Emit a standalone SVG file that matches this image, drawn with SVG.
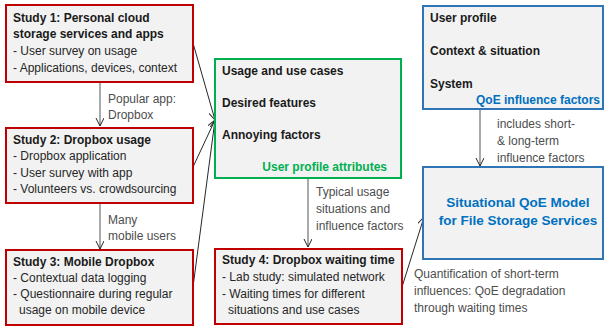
<svg xmlns="http://www.w3.org/2000/svg" width="606" height="327" viewBox="0 0 606 327">
<style>
text{font-family:"Liberation Sans",Arial,sans-serif;font-size:12px;fill:#262626}
.b{font-weight:bold;font-size:12px;fill:#1a1a1a}
.red{fill:#f2f2f2;stroke:#c00000;stroke-width:2}
.grn{fill:#f2f2f2;stroke:#00b050;stroke-width:2}
.blu{fill:#f2f2f2;stroke:#2e75b6;stroke-width:2}
.gt{fill:#00b050;font-weight:bold;font-size:12px}
.bt{fill:#0070c0;font-weight:bold;font-size:12px}
.mt{fill:#0070c0;font-weight:bold;font-size:13.5px}
.lbl{fill:#4d4d4d}
.vc{stroke:#8c8c8c;stroke-width:1.5;fill:none}
.dc{stroke:#262626;stroke-width:1;fill:none}
</style>
<defs>
<marker id="ah" markerWidth="10" markerHeight="10" refX="8" refY="4" orient="auto" markerUnits="userSpaceOnUse">
<path d="M0,0 L8,4 L0,8" fill="none" stroke="#262626" stroke-width="1"/>
</marker>
</defs>
<g id="connectors">
<line class="vc" x1="100" y1="82" x2="100" y2="126" marker-end="url(#ah)"/>
<line class="vc" x1="100" y1="203" x2="100" y2="249" marker-end="url(#ah)"/>
<line class="vc" x1="308" y1="178" x2="308" y2="247" marker-end="url(#ah)"/>
<line class="vc" x1="480" y1="109" x2="480" y2="166" marker-end="url(#ah)"/>
<line class="dc" x1="193" y1="43" x2="215" y2="120" marker-end="url(#ah)"/>
<line class="dc" x1="193" y1="167" x2="215" y2="120" marker-end="url(#ah)"/>
<line class="dc" x1="193" y1="287" x2="215" y2="120" marker-end="url(#ah)"/>
<line class="dc" x1="402" y1="287" x2="424" y2="217" marker-end="url(#ah)"/>
<text class="lbl" x="108" y="103">Popular app:</text>
<text class="lbl" x="108" y="119">Dropbox</text>
<text class="lbl" x="108" y="224">Many</text>
<text class="lbl" x="108" y="240">mobile users</text>
<text class="lbl" x="316" y="196">Typical usage</text>
<text class="lbl" x="316" y="213">situations and</text>
<text class="lbl" x="316" y="230">influence factors</text>
<text class="lbl" x="497" y="128">includes short-</text>
<text class="lbl" x="497" y="145">&amp; long-term</text>
<text class="lbl" x="497" y="162">influence factors</text>
<text class="lbl" x="414" y="278">Quantification of short-term</text>
<text class="lbl" x="414" y="295">influences: QoE degradation</text>
<text class="lbl" x="414" y="312">through waiting times</text>
</g>
<g id="study1">
<rect class="red" x="6" y="5" width="187" height="77"/>
<text class="b" x="13" y="22">Study 1: Personal cloud</text>
<text class="b" x="13" y="38">storage services and apps</text>
<text x="13" y="55">- User survey on usage</text>
<text x="13" y="72">- Applications, devices, context</text>
</g>
<g id="study2">
<rect class="red" x="6" y="128" width="187" height="75"/>
<text class="b" x="13" y="144">Study 2: Dropbox usage</text>
<text x="13" y="160">- Dropbox application</text>
<text x="13" y="177">- User survey with app</text>
<text x="13" y="193">- Volunteers vs. crowdsourcing</text>
</g>
<g id="study3">
<rect class="red" x="6" y="250" width="187" height="75"/>
<text class="b" x="13" y="266">Study 3: Mobile Dropbox</text>
<text x="13" y="282">- Contextual data logging</text>
<text x="13" y="298">- Questionnaire during regular</text>
<text x="19" y="314">usage on mobile device</text>
</g>
<g id="user-profile-attributes">
<rect class="grn" x="215" y="59" width="186" height="119"/>
<text class="b" x="222" y="75">Usage and use cases</text>
<text class="b" x="222" y="107">Desired features</text>
<text class="b" x="222" y="139">Annoying factors</text>
<text class="gt" x="387" y="171" text-anchor="end">User profile attributes</text>
</g>
<g id="study4">
<rect class="red" x="215" y="249" width="187" height="75"/>
<text class="b" x="222" y="264">Study 4: Dropbox waiting time</text>
<text x="222" y="281">- Lab study: simulated network</text>
<text x="222" y="298">- Waiting times for different</text>
<text x="228" y="314">situations and use cases</text>
</g>
<g id="qoe-influence-factors">
<rect class="blu" x="423" y="6" width="180" height="103"/>
<text class="b" x="430" y="22">User profile</text>
<text class="b" x="430" y="55">Context &amp; situation</text>
<text class="b" x="430" y="88">System</text>
<text class="bt" x="600" y="104" text-anchor="end">QoE influence factors</text>
</g>
<g id="qoe-model">
<rect class="blu" x="423" y="167" width="180" height="92"/>
<text class="mt" x="518" y="207" text-anchor="middle">Situational QoE Model</text>
<text class="mt" x="518" y="225" text-anchor="middle">for File Storage Services</text>
</g>
</svg>
